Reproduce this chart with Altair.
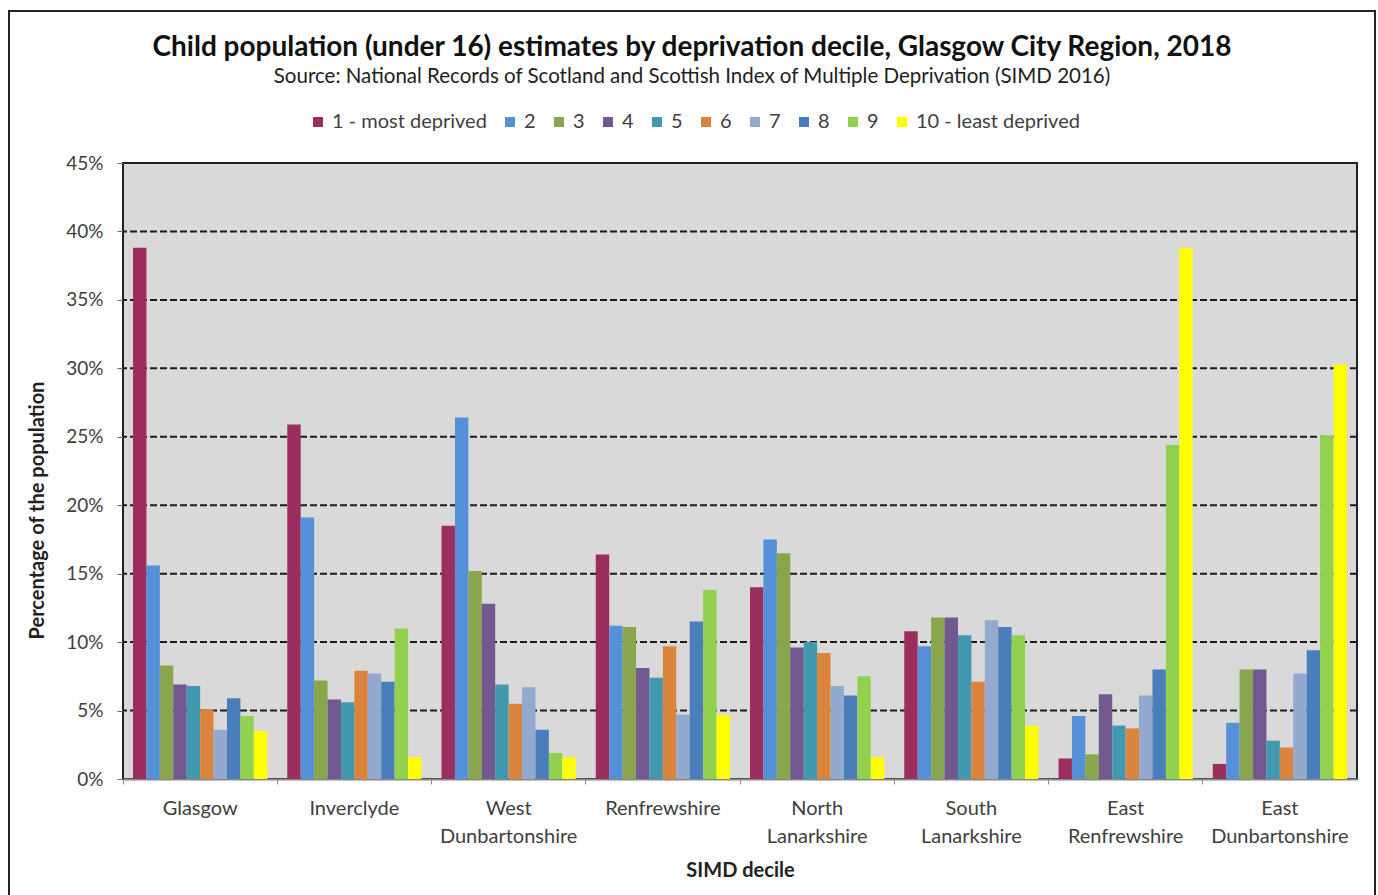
import altair as alt
import pandas as pd

councils = ["Glasgow", "Inverclyde", "West Dunbartonshire", "Renfrewshire",
            "North Lanarkshire", "South Lanarkshire", "East Renfrewshire",
            "East Dunbartonshire"]
deciles = ["1 - most deprived", "2", "3", "4", "5", "6", "7", "8", "9",
           "10 - least deprived"]
colors = ["#9B2D5F", "#5591D8", "#89A54E", "#71588F", "#4198AF", "#DB843D",
          "#93A9CF", "#4A7EBB", "#92D050", "#FFFF00"]

glasgow = [38.8, 15.6, 8.3, 6.9, 6.8, 5.1, 3.6, 5.9, 4.6, 3.5]
inverclyde = [25.9, 19.1, 7.2, 5.8, 5.6, 7.9, 7.7, 7.1, 11.0, 1.6]
west_dunbartonshire = [18.5, 26.4, 15.2, 12.8, 6.9, 5.5, 6.7, 3.6, 1.9, 1.6]
renfrewshire = [16.4, 11.2, 11.1, 8.1, 7.4, 9.7, 4.7, 11.5, 13.8, 4.7]
north_lanarkshire = [14.0, 17.5, 16.5, 9.6, 10.0, 9.2, 6.8, 6.1, 7.5, 1.6]
south_lanarkshire = [10.8, 9.7, 11.8, 11.8, 10.5, 7.1, 11.6, 11.1, 10.5, 3.9]
east_renfrewshire = [1.5, 4.6, 1.8, 6.2, 3.9, 3.7, 6.1, 8.0, 24.4, 38.8]
east_dunbartonshire = [1.1, 4.1, 8.0, 8.0, 2.8, 2.3, 7.7, 9.4, 25.1, 30.3]

series = [glasgow, inverclyde, west_dunbartonshire, renfrewshire,
          north_lanarkshire, south_lanarkshire, east_renfrewshire,
          east_dunbartonshire]

rows = []
for c, vals in zip(councils, series):
    for d, v in zip(deciles, vals):
        rows.append({"council": c, "decile": d, "value": v})
df = pd.DataFrame(rows)

FONT = "Lato"
TXT = "#404040"
P_IN = 0.13

bars = alt.Chart(df).mark_bar().encode(
    x=alt.X("council:N", sort=councils,
            scale=alt.Scale(paddingInner=P_IN, paddingOuter=P_IN / 2),
            axis=alt.Axis(title="SIMD decile", labelAngle=0,
                          labelExpr="split(datum.label, ' ')",
                          labelFontSize=20, labelLineHeight=28,
                          labelPadding=14, labelColor=TXT,
                          titleFontSize=20, titleFontWeight="bold",
                          titleColor="#222", titlePadding=14,
                          tickSize=5, tickColor="#888",
                          bandPosition=-P_IN / (2 * (1 - P_IN)),
                          domainColor="#888", domainWidth=2)),
    xOffset=alt.XOffset("decile:N", sort=deciles,
                        scale=alt.Scale(paddingInner=0, paddingOuter=0)),
    y=alt.Y("value:Q",
            scale=alt.Scale(domain=[0, 45], nice=False),
            axis=alt.Axis(title="Percentage of the population",
                          values=list(range(0, 50, 5)),
                          labelExpr="datum.value + '%'",
                          labelFontSize=19, labelColor=TXT, labelPadding=14,
                          tickSize=6, tickColor="#666",
                          titleFontSize=20, titleFontWeight="bold",
                          titleColor="#222", titleX=-76, titleY=347,
                          titleAngle=270, titleAlign="center",
                          grid=False, domain=False)),
    color=alt.Color("decile:N", sort=deciles,
                    scale=alt.Scale(domain=deciles, range=colors),
                    legend=alt.Legend(title=None, orient="none",
                                      direction="horizontal", columns=10,
                                      legendX=185, legendY=-51,
                                      symbolType="square", symbolSize=100,
                                      symbolStrokeWidth=0,
                                      labelFontSize=20, labelColor=TXT,
                                      labelLimit=400,
                                      labelOffset=4, columnPadding=13)),
)

grid = alt.Chart(pd.DataFrame({"g": list(range(5, 45, 5))})).mark_rule(
    color="#1a1a1a", strokeWidth=2, strokeDash=[7, 3]
).encode(y="g:Q")

frame = alt.Chart(alt.Data(values=[{"a": 1}])).mark_rect(
    fill=None, stroke="#222", strokeWidth=2
).encode(x=alt.value(-114), x2=alt.value(1252),
         y=alt.value(-152), y2=alt.value(760))

chart = alt.layer(grid, bars, frame).properties(
    width=1234, height=616,
    autosize=alt.AutoSizeParams(type="none"),
    padding={"left": 123, "top": 163, "right": 21, "bottom": 116},
    background="white",
    title=alt.TitleParams(
        text="Child population (under 16) estimates by deprivation decile, Glasgow City Region, 2018",
        subtitle="Source: National Records of Scotland and Scottish Index of Multiple Deprivation (SIMD 2016)",
        anchor="middle", frame="bounds", offset=-77,
        fontSize=28, fontWeight="bold", color="#111",
        subtitleFontSize=20.5, subtitleColor="#222", subtitlePadding=5,
        font=FONT, subtitleFont=FONT),
).configure(font=FONT).configure_view(
    fill="#D9D9D9", stroke="#222", strokeWidth=2
).configure_axis(labelFont=FONT, titleFont=FONT).configure_legend(
    labelFont=FONT)

chart.save("out.html", embed_options={"renderer": "svg", "actions": False})
